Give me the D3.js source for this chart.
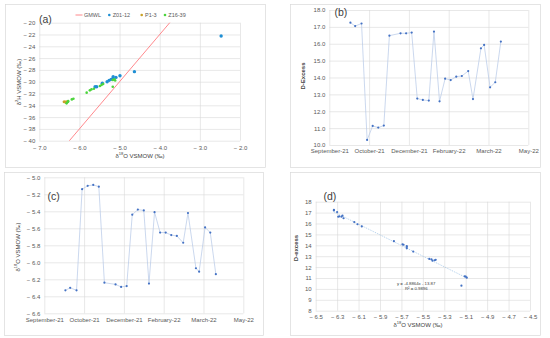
<!DOCTYPE html>
<html>
<head>
<meta charset="utf-8">
<script src="https://cdn.jsdelivr.net/npm/d3@7"></script>
<style>
  body { margin: 0; background: #fff; }
  svg { font-family: "Liberation Sans", Arial, sans-serif; }
  .tick text { fill: #595959; font-size: 6px; }
  .tick line { stroke: #d9d9d9; stroke-width: 0.6; }
  .title { fill: #404040; font-size: 6px; }
</style>
</head>
<body>
<svg id="chart" width="550" height="338"></svg>
<script>
// ---- panel (a): d2H vs d18O ----
const z0112 = [
  [-2.47, -22.26], [-4.63, -28.3], [-4.99, -29.0], [-5.09, -29.27], [-5.16, -29.15],
  [-5.17, -29.5], [-5.21, -29.6], [-5.26, -29.77], [-5.31, -30.0], [-5.43, -30.27],
  [-5.57, -30.85], [-5.61, -30.85]
];
const p13 = [[-6.38, -33.4], [-6.34, -33.45], [-6.31, -33.4]];
const z1639 = [
  [-6.32, -33.67], [-6.29, -33.45], [-6.28, -33.3], [-6.19, -33.0], [-6.15, -32.9],
  [-5.82, -31.86], [-5.74, -31.47], [-5.70, -31.3], [-5.64, -31.2], [-5.49, -30.73],
  [-5.45, -30.56], [-5.41, -30.4], [-5.17, -30.85], [-5.17, -29.7], [-5.13, -29.6],
  [-5.11, -29.8]
];
const gmwl = [[-6.25, -40], [-3.75, -20]];

// ---- panels (b), (c): time series (sample position in axis-tick units) ----
const dateTicks = ["September-21", "October-21", "December-21", "February-22", "March-22", "May-22"];
const samplePos = [0.53, 0.65, 0.81, 0.95, 1.09, 1.23, 1.37, 1.51, 1.79, 1.93, 2.07, 2.21, 2.35, 2.50,
  2.63, 2.77, 2.91, 3.05, 3.19, 3.33, 3.49, 3.61, 3.81, 3.89, 4.04, 4.17, 4.31];
const dExcess = [17.25, 17.05, 17.2, 10.3, 11.13, 11.03, 11.15, 16.48, 16.62, 16.62, 16.66, 12.75, 12.67, 12.63,
  16.72, 12.59, 13.93, 13.85, 14.05, 14.09, 14.38, 12.72, 15.73, 15.93, 13.42, 13.72, 16.13];
const d18O = [-6.33, -6.30, -6.33, -5.14, -5.10, -5.09, -5.11, -6.24, -6.26, -6.29, -6.28, -5.44, -5.38, -5.39,
  -6.25, -5.41, -5.65, -5.65, -5.68, -5.69, -5.77, -5.42, -6.07, -6.11, -5.59, -5.65, -6.14];

// ---- panel (d): trend ----
const trendSlope = -4.8864, trendIntercept = -13.87;
const trendText = ["y = -4.8864x - 13.87", "R² = 0.9896"];

const svg = d3.select("#chart");
const minus = d => d < 0 ? "− " + Math.abs(d) : "" + d;
const minusF = f => d => d < 0 ? "− " + d3.format(f)(Math.abs(d)) : d3.format(f)(d);

function frame(x, y, w, h) {
  svg.append("rect").attr("x", x).attr("y", y).attr("width", w).attr("height", h)
    .attr("fill", "#fff").attr("stroke", "#d9d9d9").attr("stroke-width", 0.7);
}

function grid(x, y, xTicks, yTicks, xFmt, yFmt, xLabelY) {
  const [x0, x1] = x.range();
  const [y0, y1] = y.range();
  const gy = svg.append("g").attr("transform", `translate(${x0},0)`)
    .call(d3.axisLeft(y).tickValues(yTicks).tickSize(-(x1 - x0)).tickPadding(4).tickFormat(yFmt));
  gy.select(".domain").remove();
  const gx = svg.append("g").attr("transform", `translate(0,${y0})`)
    .call(d3.axisBottom(x).tickValues(xTicks).tickSize(-(y0 - y1)).tickPadding(xLabelY).tickFormat(xFmt));
  gx.select(".domain").remove();
}

function label(txt, x, y, size) {
  svg.append("text").attr("x", x).attr("y", y).attr("font-size", size).attr("fill", "#404040").text(txt);
}

function title(txt, x, y, rotate, bold) {
  const t = svg.append("text").attr("class", "title").attr("text-anchor", "middle")
    .attr("transform", `translate(${x},${y})` + (rotate ? " rotate(-90)" : ""))
    .attr("dominant-baseline", "middle");
  if (bold) t.attr("font-weight", "bold");
  return t;
}

function isoTitle(t, sup, rest) {
  t.append("tspan").text("δ");
  t.append("tspan").attr("font-size", "4px").attr("dy", "-2").text(sup);
  t.append("tspan").attr("dy", "2").text(rest);
}

// ===== (a) =====
frame(5.5, 4.5, 260, 163);
const xa = d3.scaleLinear().domain([-7, -2]).range([39.3, 240]);
const ya = d3.scaleLinear().domain([-40, -20]).range([140.7, 22.7]);
grid(xa, ya, d3.range(-7, -1.9, 1), d3.range(-40, -19, 2), minusF(".1f"), minus, 5);
svg.append("path").datum(gmwl).attr("fill", "none").attr("stroke", "#ff7c80").attr("stroke-width", 0.9)
  .attr("d", d3.line().x(d => xa(d[0])).y(d => ya(d[1])));
const seriesA = [
  { name: "Z01-12", data: z0112, color: "#1f8fd4", r: 1.7 },
  { name: "P1-3", data: p13, color: "#c9a227", r: 1.6 },
  { name: "Z16-39", data: z1639, color: "#4cd43c", r: 1.3 }
];
seriesA.forEach(s => {
  svg.append("g").selectAll("circle").data(s.data).join("circle")
    .attr("cx", d => xa(d[0])).attr("cy", d => ya(d[1])).attr("r", s.r).attr("fill", s.color);
});
// legend
const lg = svg.append("g").attr("font-size", 5.5).attr("fill", "#595959");
lg.append("line").attr("x1", 75.5).attr("x2", 82.5).attr("y1", 15).attr("y2", 15)
  .attr("stroke", "#ff7c80").attr("stroke-width", 0.9);
lg.append("text").attr("x", 84).attr("y", 17).text("GMWL");
const legX = [[109.3, 112.7], [141.7, 145], [165, 168.3]];
seriesA.forEach((s, i) => {
  lg.append("circle").attr("cx", legX[i][0]).attr("cy", 15).attr("r", 1.3).attr("fill", s.color);
  lg.append("text").attr("x", legX[i][1]).attr("y", 17).text(s.name);
});
label("(a)", 39, 23, 10.5);
isoTitle(title("", 140, 156), "18", "O VSMOW (‰)");
isoTitle(title("", 19, 82, true), "2", "H VSMOW (‰)");

// ===== (b) =====
frame(290.5, 4.5, 250, 163);
const xb = d3.scaleLinear().domain([0, 5]).range([329.3, 528.3]);
const yb = d3.scaleLinear().domain([10, 18]).range([145, 10]);
grid(xb, yb, d3.range(0, 6), d3.range(10, 18.1, 1), i => dateTicks[i], d3.format(".1f"), 4);
svg.append("path").datum(samplePos.map((p, i) => [p, dExcess[i]])).attr("fill", "none")
  .attr("stroke", "#b4c7e7").attr("stroke-width", 0.7)
  .attr("d", d3.line().x(d => xb(d[0])).y(d => yb(d[1])));
svg.append("g").selectAll("circle").data(samplePos.map((p, i) => [p, dExcess[i]])).join("circle")
  .attr("cx", d => xb(d[0])).attr("cy", d => yb(d[1])).attr("r", 1.1).attr("fill", "#4472c4");
label("(b)", 334.5, 15.5, 10.5);
title("", 303, 76, true, true).text("D-Excess");

// ===== (c) =====
frame(4.5, 172.5, 259, 163);
const xc = d3.scaleLinear().domain([0, 5]).range([44.3, 243.3]);
const yc = d3.scaleLinear().domain([-6.6, -5.0]).range([313.3, 177.3]);
grid(xc, yc, d3.range(0, 6), d3.range(-6.6, -4.99, 0.2).map(v => +v.toFixed(1)), i => dateTicks[i], minusF(".1f"), 4);
svg.append("path").datum(samplePos.map((p, i) => [p, d18O[i]])).attr("fill", "none")
  .attr("stroke", "#b4c7e7").attr("stroke-width", 0.7)
  .attr("d", d3.line().x(d => xc(d[0])).y(d => yc(d[1])));
svg.append("g").selectAll("circle").data(samplePos.map((p, i) => [p, d18O[i]])).join("circle")
  .attr("cx", d => xc(d[0])).attr("cy", d => yc(d[1])).attr("r", 1.1).attr("fill", "#4472c4");
label("(c)", 47.5, 200, 10.5);
isoTitle(title("", 18, 247, true), "18", "O VSMOW (‰)");

// ===== (d) =====
frame(290.5, 172.5, 250, 163);
const xd = d3.scaleLinear().domain([-6.5, -4.5]).range([315.7, 530]);
const yd = d3.scaleLinear().domain([8, 18]).range([310.7, 201.7]);
grid(xd, yd, d3.range(-6.5, -4.49, 0.2).map(v => +v.toFixed(1)), d3.range(8, 18.1, 1), minusF(".1f"), d => d, 4);
const ext = d3.extent(d18O);
svg.append("line")
  .attr("x1", xd(ext[0])).attr("y1", yd(trendSlope * ext[0] + trendIntercept))
  .attr("x2", xd(ext[1])).attr("y2", yd(trendSlope * ext[1] + trendIntercept))
  .attr("stroke", "#9dc3e6").attr("stroke-width", 0.8).attr("stroke-dasharray", "1,1");
svg.append("g").selectAll("circle").data(d18O.map((v, i) => [v, dExcess[i]])).join("circle")
  .attr("cx", d => xd(d[0])).attr("cy", d => yd(d[1])).attr("r", 1.1).attr("fill", "#4472c4");
svg.append("text").attr("x", 397).attr("y", 285).attr("font-size", 4.3).attr("fill", "#404040").text(trendText[0]);
svg.append("text").attr("x", 405).attr("y", 289.5).attr("font-size", 4.3).attr("fill", "#404040").text(trendText[1]);
label("(d)", 323.5, 200, 10.5);
isoTitle(title("", 418, 325), "18", "O VSMOW (‰)");
title("", 296, 248, true, true).text("D-excess");
</script>
</body>
</html>
